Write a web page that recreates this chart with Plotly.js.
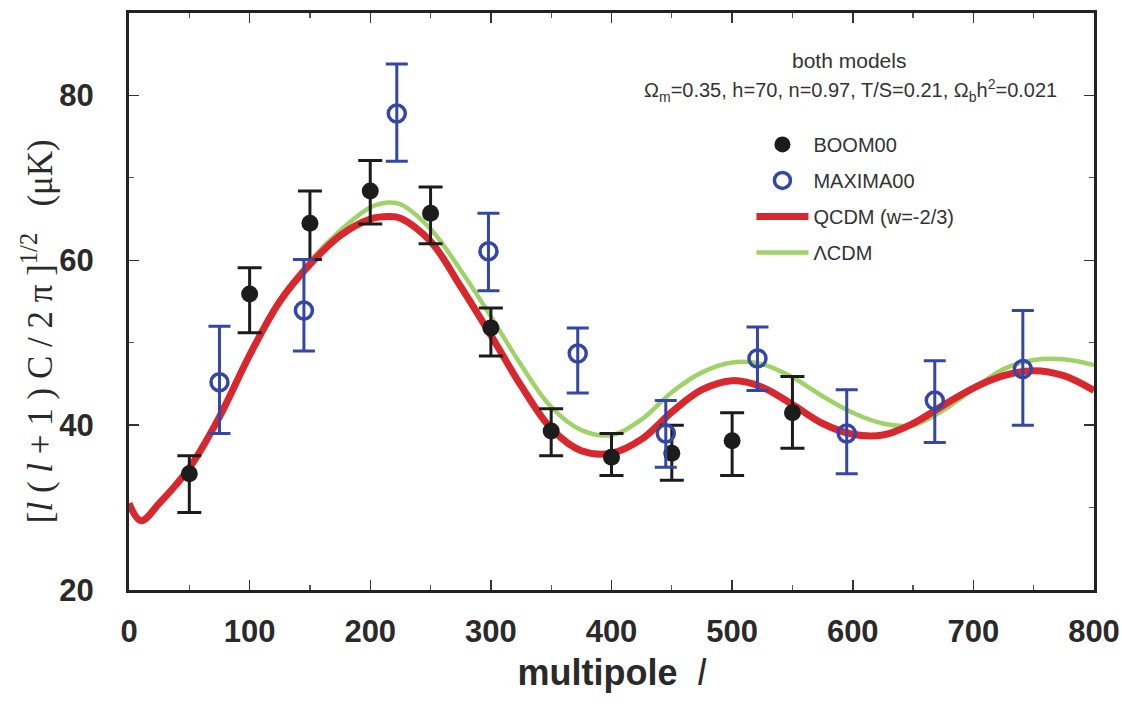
<!DOCTYPE html>
<html>
<head>
<meta charset="utf-8">
<script src="https://cdn.plot.ly/plotly-3.0.1.min.js"></script>
<style>html,body{margin:0;padding:0;background:#fff;}#chart{width:1122px;height:721px;}</style>
</head>
<body>
<div id="chart"></div>
<script>
// ---- data ----
const boomL = [50, 100, 150, 200, 250, 300, 350, 400, 450, 500, 550];
const boomVal = [34.1, 55.9, 64.5, 68.4, 65.7, 51.8, 39.3, 36.1, 36.6, 38.1, 41.5];
const boomErrPlus = [2.2, 3.2, 3.9, 3.7, 3.2, 2.4, 2.7, 2.9, 3.4, 3.4, 4.4];
const boomErrMinus = [4.7, 4.7, 4.4, 4.0, 3.7, 3.4, 3.0, 2.2, 3.3, 4.2, 4.3];

const maximaL = [75, 145, 222, 298, 372, 445, 521, 595, 668, 741];
const maximaVal = [45.2, 53.9, 77.8, 61.1, 48.7, 39.0, 48.1, 39.0, 43.0, 46.8];
const maximaErrPlus = [6.8, 6.2, 6.0, 4.6, 3.1, 4.0, 3.8, 5.3, 4.8, 7.1];
const maximaErrMinus = [6.2, 4.9, 5.8, 4.8, 4.8, 4.1, 3.9, 4.9, 5.1, 6.8];

const modelL = [0, 10, 25, 50, 75, 100, 125, 150, 175, 200, 215, 225, 250, 275, 300, 325, 350, 375, 400, 425, 450, 475, 500, 525, 550, 575, 600, 625, 650, 675, 700, 725, 750, 775, 800];
const qcdm = [30.5, 28.4, 30.5, 34.8, 41.0, 48.5, 55.0, 59.5, 63.0, 65.0, 65.3, 65.1, 62.3, 56.8, 50.9, 44.8, 39.6, 36.9, 36.6, 38.3, 41.6, 44.3, 45.4, 44.6, 42.5, 40.2, 38.9, 38.8, 40.2, 42.4, 44.5, 46.0, 46.6, 46.0, 44.2];
const lcdm = [30.5, 28.4, 30.5, 34.8, 41.0, 48.6, 55.2, 59.9, 63.6, 66.4, 67.0, 66.8, 63.8, 58.8, 53.2, 47.3, 42.2, 39.4, 38.8, 40.7, 44.0, 46.4, 47.6, 47.4, 45.8, 43.5, 41.5, 40.2, 40.0, 41.8, 44.4, 46.8, 47.9, 48.0, 47.3];

const xTickVals = [0, 100, 200, 300, 400, 500, 600, 700, 800];
const yTickVals = [20, 40, 60, 80];

const seriesNames = ["BOOM00", "MAXIMA00", "QCDM (w=-2/3)", "ΛCDM"];

// ---- styles ----
const sans = "Liberation Sans, Arial, sans-serif";
const tickFont = {family: sans, size: 31, color: "#2a2a2a", weight: 700};
const red = "#d8282e";
const green = "#9fd36a";
const blue = "#3446a8";
const black = "#1c1c1c";

const traces = [
  {x: modelL, y: lcdm, mode: "lines", name: seriesNames[3], legendrank: 4, legendgroup: "d",
   line: {color: green, width: 4.5, shape: "spline", smoothing: 1.0}},
  {x: modelL, y: qcdm, mode: "lines", name: seriesNames[2], legendrank: 3, legendgroup: "c",
   line: {color: red, width: 7, shape: "spline", smoothing: 1.0}},
  {x: boomL, y: boomVal, mode: "markers", name: seriesNames[0], legendrank: 1, legendgroup: "a",
   marker: {symbol: "circle", size: 17, color: black},
   error_y: {type: "data", symmetric: false, array: boomErrPlus, arrayminus: boomErrMinus,
             color: black, thickness: 3, width: 12}},
  {x: maximaL, y: maximaVal, mode: "markers", name: seriesNames[1], legendrank: 2, legendgroup: "b",
   marker: {symbol: "circle-open", size: 17, color: blue, line: {width: 3.5, color: blue}},
   error_y: {type: "data", symmetric: false, array: maximaErrPlus, arrayminus: maximaErrMinus,
             color: blue, thickness: 3, width: 11}}
];

const layout = {
  width: 1122, height: 721,
  margin: {l: 129, r: 28, t: 13, b: 131},
  paper_bgcolor: "#ffffff", plot_bgcolor: "#ffffff",
  showlegend: true,
  legend: {x: 0.645, y: 0.806, xanchor: "left", yanchor: "top", bgcolor: "rgba(0,0,0,0)",
           font: {family: sans, size: 20, color: "#333"},
           tracegroupgap: 7, itemwidth: 52},
  xaxis: {range: [0, 800], tickvals: xTickVals, ticks: "inside", ticklen: 10, tickwidth: 1.5, tickcolor: "#333",
          showline: true, linewidth: 3, linecolor: "#222", mirror: "ticks", showgrid: false, zeroline: false,
          minor: {ticks: "inside", dtick: 50, ticklen: 5, tickwidth: 1.2, tickcolor: "#555", showgrid: false},
          tickfont: tickFont, ticklabelstandoff: 12, ticklabeloverflow: "allow",
          title: {text: "<b>multipole</b>  <i>l</i>", font: {family: sans, size: 36, color: "#2a2a2a"}, standoff: 12}},
  yaxis: {range: [20, 90], tickvals: yTickVals, ticks: "inside", ticklen: 10, tickwidth: 1.5, tickcolor: "#333",
          showline: true, linewidth: 3, linecolor: "#222", mirror: "ticks", showgrid: false, zeroline: false,
          minor: {ticks: "inside", dtick: 10, ticklen: 5, tickwidth: 1.2, tickcolor: "#555", showgrid: false},
          tickfont: tickFont, ticklabelstandoff: 26, ticklabeloverflow: "allow"},
  annotations: [
    {xref: "paper", yref: "paper", x: -0.094, y: 0.449, xanchor: "center", yanchor: "middle", textangle: -90, showarrow: false,
     text: "[<i>l</i> ( <i>l</i> + 1 ) C / 2 π ]<sup>1/2</sup>   (μK)",
     font: {family: "Liberation Serif, Times New Roman, serif", size: 35, color: "#2a2a2a"}},
    {xref: "paper", yref: "paper", x: 0.746, y: 0.917, xanchor: "center", yanchor: "middle", showarrow: false, text: "both models",
     font: {family: sans, size: 21, color: "#333"}},
    {xref: "paper", yref: "paper", x: 0.748, y: 0.865, xanchor: "center", yanchor: "middle", showarrow: false,
     text: "Ω<sub>m</sub>=0.35, h=70, n=0.97, T/S=0.21, Ω<sub>b</sub>h<sup>2</sup>=0.021",
     font: {family: sans, size: 20, color: "#333"}}
  ]
};

Plotly.newPlot("chart", traces, layout, {displayModeBar: false, staticPlot: true});
</script>
</body>
</html>
